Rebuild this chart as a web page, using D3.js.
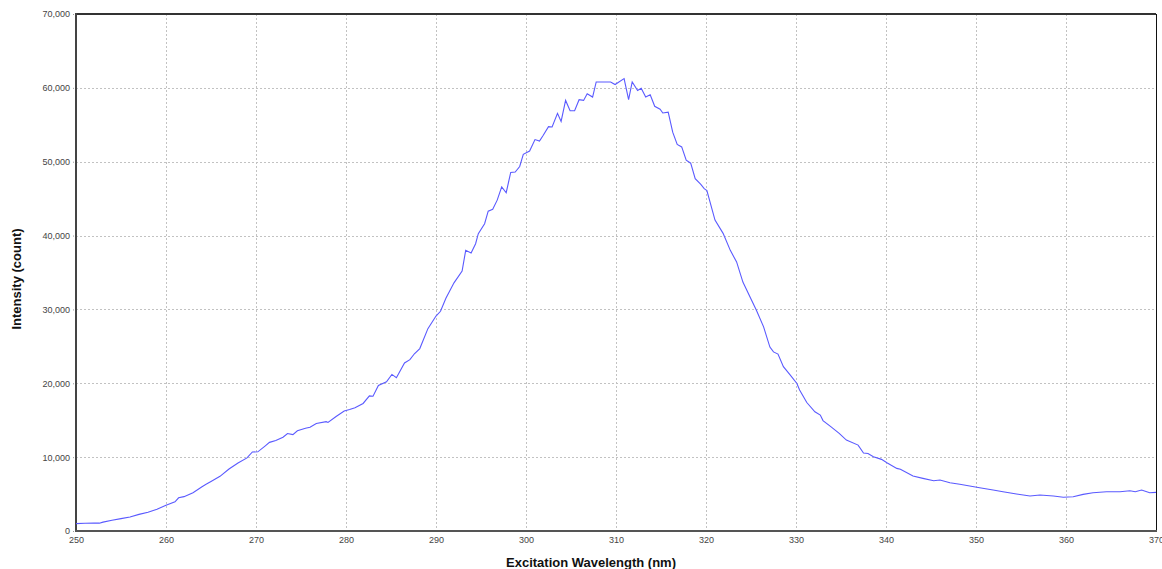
<!DOCTYPE html>
<html>
<head>
<meta charset="utf-8">
<script src="https://cdn.jsdelivr.net/npm/d3@7"></script>
<style>
  body { margin: 0; background: #fff; }
  svg { display: block; font-family: "Liberation Sans", Arial, sans-serif; }
</style>
</head>
<body>
<svg id="canvas"></svg>
<script>
// wavelength (nm) and intensity (count)
const wavelength = [
  250, 251, 252, 252.6, 253, 254, 255, 256, 257, 258, 259, 260, 261, 261.4, 262, 263, 264, 264.5, 265, 266,
  267, 268, 269, 269.6, 270.2, 271, 271.5, 272.2, 273, 273.5, 274.1, 274.6, 275.5, 276, 276.7, 277.8, 278, 278.9, 279.8, 280.4,
  281, 281.9, 282.6, 283, 283.6, 284.5, 285.1, 285.6, 286.5, 287.1, 287.6, 288.2, 289.1, 290, 290.5, 291.1, 292, 292.9, 293.3, 293.9,
  294.4, 294.7, 295.4, 295.8, 296.3, 296.8, 297.3, 297.8, 298.3, 298.8, 299.3, 299.7, 300.4, 301, 301.5, 301.9, 302.5, 302.9, 303.5, 303.9,
  304.4, 304.9, 305.4, 305.9, 306.4, 306.8, 307.4, 307.8, 309.4, 309.9, 310.9, 311.4, 311.8, 312.4, 312.8, 313.3, 313.8, 314.3, 314.9, 315.2,
  315.8, 316.3, 316.8, 317.3, 317.8, 318.3, 318.8, 319.4, 319.8, 320.1, 321, 321.9, 322.7, 323.4, 324.1, 325, 325.6, 326.4, 327.1, 327.5,
  328, 328.6, 329.3, 330.1, 330.4, 331.2, 332.1, 332.7, 333, 333.9, 334.8, 335.6, 336.9, 337.5, 338, 338.6, 339.5, 340.1, 341.2, 341.6,
  343, 344.1, 345.3, 346, 347.1, 348.2, 349.3, 350.4, 351.9, 353, 354.5, 356, 357.1, 358.6, 359.7, 360.8, 361.9, 363, 364.5, 366,
  367.1, 367.7, 368.4, 369.3, 370
];
const intensity = [
  1000, 1050, 1080, 1060, 1200, 1450, 1680, 1900, 2250, 2550, 2950, 3480, 3950, 4500, 4650, 5180, 6000, 6350, 6700, 7400,
  8400, 9200, 9900, 10700, 10720, 11500, 12000, 12250, 12700, 13200, 13050, 13570, 13900, 14050, 14550, 14800, 14700, 15500, 16250, 16460,
  16700, 17270, 18300, 18250, 19700, 20200, 21200, 20750, 22750, 23200, 24000, 24700, 27400, 29100, 29750, 31500, 33600, 35200, 38000, 37650,
  38900, 40250, 41600, 43300, 43550, 44800, 46600, 45800, 48550, 48600, 49350, 51000, 51450, 53000, 52800, 53550, 54750, 54700, 56550, 55450,
  58300, 56900, 56900, 58400, 58300, 59200, 58750, 60800, 60800, 60450, 61250, 58400, 60800, 59650, 59950, 58750, 59050, 57500, 57100, 56600,
  56700, 54000, 52350, 52000, 50200, 49800, 47700, 46950, 46350, 46100, 42100, 40300, 38000, 36430, 33700, 31400, 29900, 27640, 24900, 24250,
  23950, 22250, 21200, 19980, 19100, 17400, 16140, 15690, 14950, 14100, 13220, 12310, 11630, 10550, 10500, 10050, 9700, 9250, 8480, 8350,
  7440, 7130, 6800, 6900, 6530, 6320, 6090, 5860, 5550, 5320, 5010, 4730, 4870, 4730, 4560, 4640, 4960, 5180, 5320, 5320,
  5450, 5320, 5550, 5180, 5230
];
const xTicks = [250, 260, 270, 280, 290, 300, 310, 320, 330, 340, 350, 360, 370];
const yTicks = [0, 10000, 20000, 30000, 40000, 50000, 60000, 70000];

const width = 1162;
const height = 569;
const plotLeft = 76, plotRight = 1156, plotTop = 14, plotBottom = 531;

let canvas = d3.select('#canvas').attr('width', width).attr('height', height);

const points = wavelength.map((w, i) => ({ w: w, v: intensity[i] }));

const xScale = d3.scaleLinear().domain([250, 370]).range([plotLeft, plotRight]);
const yScale = d3.scaleLinear().domain([0, 70000]).range([plotBottom, plotTop]);

// grid
canvas.append('g')
  .selectAll('line')
  .data(xTicks.slice(1, -1))
  .enter()
  .append('line')
  .attr('x1', d => xScale(d) + 0.5).attr('x2', d => xScale(d) + 0.5)
  .attr('y1', plotTop).attr('y2', plotBottom)
  .attr('stroke', '#c2c2c2').attr('stroke-dasharray', '2,2');

canvas.append('g')
  .selectAll('line')
  .data(yTicks.slice(1, -1))
  .enter()
  .append('line')
  .attr('x1', plotLeft).attr('x2', plotRight)
  .attr('y1', d => Math.round(yScale(d)) + 0.5).attr('y2', d => Math.round(yScale(d)) + 0.5)
  .attr('stroke', '#c2c2c2').attr('stroke-dasharray', '2,2');

// axes
let yAxis = d3.axisLeft(yScale)
  .tickValues(yTicks)
  .tickFormat(d3.format(','))
  .tickSize(4)
  .tickSizeOuter(0)
  .tickPadding(2);
let gy = canvas.append('g')
  .attr('transform', 'translate(' + plotLeft + ', 0)')
  .call(yAxis);
gy.select('.domain').remove();
gy.selectAll('line').attr('stroke', '#999').attr('stroke-dasharray', '1,1');
gy.selectAll('text').attr('font-size', 9).attr('fill', '#444').attr('font-family', '"Liberation Sans", Arial, sans-serif');

let xAxis = d3.axisBottom(xScale)
  .tickValues(xTicks)
  .tickSize(0)
  .tickPadding(6);
let gx = canvas.append('g')
  .attr('transform', 'translate(0, ' + plotBottom + ')')
  .call(xAxis);
gx.select('.domain').remove();
gx.selectAll('text').attr('font-size', 9).attr('fill', '#444').attr('font-family', '"Liberation Sans", Arial, sans-serif');

// plot frame
canvas.append('line')
  .attr('x1', plotLeft).attr('x2', plotRight).attr('y1', plotTop).attr('y2', plotTop)
  .attr('stroke', '#333').attr('stroke-width', 2);
canvas.append('line')
  .attr('x1', plotRight + 0.5).attr('x2', plotRight + 0.5).attr('y1', plotTop).attr('y2', plotBottom)
  .attr('stroke', '#111').attr('stroke-width', 1);
canvas.append('line')
  .attr('x1', plotLeft).attr('x2', plotLeft).attr('y1', plotTop - 1).attr('y2', plotBottom + 1)
  .attr('stroke', '#444').attr('stroke-width', 2);
canvas.append('line')
  .attr('x1', plotLeft - 1).attr('x2', plotRight + 1).attr('y1', plotBottom).attr('y2', plotBottom)
  .attr('stroke', '#555').attr('stroke-width', 2);

// spectrum
const line = d3.line()
  .x(d => xScale(d.w))
  .y(d => yScale(d.v));

canvas.append('path')
  .datum(points)
  .attr('d', line)
  .attr('fill', 'none')
  .attr('stroke', '#5a5aff')
  .attr('stroke-width', 1.1);

// titles
canvas.append('text')
  .attr('x', 591).attr('y', 567)
  .attr('text-anchor', 'middle')
  .attr('font-size', 13).attr('font-weight', 'bold').attr('fill', '#111')
  .text('Excitation Wavelength (nm)');

canvas.append('text')
  .attr('transform', 'translate(21, 279) rotate(-90)')
  .attr('text-anchor', 'middle')
  .attr('font-size', 13).attr('font-weight', 'bold').attr('fill', '#111')
  .text('Intensity (count)');
</script>
</body>
</html>
